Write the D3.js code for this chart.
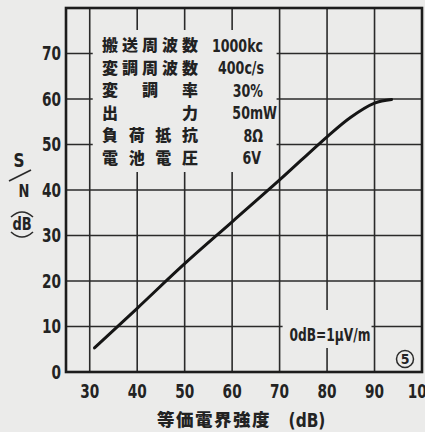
<!DOCTYPE html>
<html>
<head>
<meta charset="utf-8">
<script src="https://cdn.jsdelivr.net/npm/d3@7"></script>
<style>
  html, body { margin: 0; padding: 0; background: #ebebea; }
  svg { display: block; }
  .num { font-family: "DejaVu Sans Condensed", "Liberation Sans", sans-serif; fill: #232323; }
  .cjk { font-family: "Noto Sans CJK JP", sans-serif; font-weight: 900; fill: #222; }
</style>
</head>
<body>
<script>
// S/N versus equivalent field strength
const fieldStrength = [31, 40, 50, 60, 70, 80, 85, 90, 93.6];        // dB (0 dB = 1 µV/m)
const snRatio       = [5.3, 14, 23.8, 33.0, 42.2, 51.7, 56.0, 59.1, 59.9]; // dB

const xTicks = [30, 40, 50, 60, 70, 80, 90, 100];
const yTicks = [0, 10, 20, 30, 40, 50, 60, 70];

const condLabels = ["搬送周波数", "変調周波数", "変調率", "出力", "負荷抵抗", "電池電圧"];
const condValues = ["1000kc", "400c/s", "30%", "50mW", "8Ω", "6V"];

const W = 425, H = 432;
const svg = d3.select("body").append("svg").attr("width", W).attr("height", H);

const x = d3.scaleLinear().domain([25, 100]).range([66, 422]);
const y = d3.scaleLinear().domain([0, 80]).range([372, 8]);

const ink = "#2a2a2a";
const paper = "#ebebea";

// narrow lettering: horizontally squeezed text
function label(g, px, py, str, opt) {
  const o = Object.assign({ size: 18, sx: 0.8, anchor: "middle", weight: "bold", cls: "num" }, opt);
  return g.append("text").attr("class", o.cls)
    .attr("transform", `translate(${px},${py}) scale(${o.sx},1)`)
    .attr("dy", "0.36em").attr("text-anchor", o.anchor)
    .attr("font-size", o.size).attr("font-weight", o.weight)
    .text(str);
}

// grid
const grid = svg.append("g");
grid.selectAll("line.v").data(xTicks.slice(0, -1)).join("line")
  .attr("x1", d => x(d)).attr("x2", d => x(d))
  .attr("y1", y(80)).attr("y2", y(0))
  .attr("stroke", ink).attr("stroke-width", 1.6);
grid.selectAll("line.h").data(yTicks.slice(1)).join("line")
  .attr("x1", x(25)).attr("x2", x(100))
  .attr("y1", d => y(d)).attr("y2", d => y(d))
  .attr("stroke", ink).attr("stroke-width", 1.6);

// blank panels behind the notes
svg.append("rect")
  .attr("x", x(30) + 3).attr("y", 30)
  .attr("width", x(70) - x(30) - 6).attr("height", 142)
  .attr("fill", paper);
svg.append("rect")
  .attr("x", x(70) + 3).attr("y", 310)
  .attr("width", x(90) - x(70) - 6).attr("height", 38)
  .attr("fill", paper);

// frame
svg.append("rect")
  .attr("x", x(25)).attr("y", y(80))
  .attr("width", x(100) - x(25)).attr("height", y(0) - y(80))
  .attr("fill", "none").attr("stroke", "#1c1c1c").attr("stroke-width", 2.6);

// curve
const line = d3.line()
  .x((d, i) => x(fieldStrength[i]))
  .y(d => y(d))
  .curve(d3.curveCatmullRom.alpha(0.5));
svg.append("path")
  .attr("d", line(snRatio))
  .attr("fill", "none").attr("stroke", "#151515").attr("stroke-width", 3)
  .attr("stroke-linecap", "round");

// tick labels
const yl = svg.append("g");
yTicks.forEach(d => label(yl, 61, y(d), d, { anchor: "end", size: 19 }));
const xl = svg.append("g");
xTicks.forEach(d => label(xl, x(d), 391, d, { size: 19 }));

// axis titles
svg.append("text").attr("class", "cjk")
  .attr("x", 157).attr("y", 420).attr("dy", "0.36em")
  .attr("font-size", 17.5).attr("letter-spacing", 1.5)
  .text("等価電界強度");
label(svg, 307, 420, "(dB)", { size: 19, sx: 0.9, weight: "bold" });

const yt = svg.append("g");
label(yt, 19, 160, "S", { size: 20, sx: 0.85 });
yt.append("line").attr("x1", 9).attr("y1", 181).attr("x2", 31).attr("y2", 170)
  .attr("stroke", ink).attr("stroke-width", 1.8);
label(yt, 24, 191, "N", { size: 17, sx: 0.85 });
label(yt, 22, 224, "dB", { size: 17, sx: 0.85 });
yt.append("path").attr("d", "M11,217 Q22,207 33,217")
  .attr("fill", "none").attr("stroke", ink).attr("stroke-width", 1.6);
yt.append("path").attr("d", "M11,232 Q22,242 33,232")
  .attr("fill", "none").attr("stroke", ink).attr("stroke-width", 1.6);

// measurement conditions
const rowY = i => 45.5 + i * 22.5;
const notes = svg.append("g");
condLabels.forEach((lab, i) => {
  const chars = Array.from(lab);
  const n = chars.length;
  chars.forEach((c, j) => {
    notes.append("text").attr("class", "cjk")
      .attr("x", 110 + (n > 1 ? j * 80 / (n - 1) : 0))
      .attr("y", rowY(i)).attr("dy", "0.36em")
      .attr("text-anchor", "middle").attr("font-size", 16)
      .text(c);
  });
});
const valueEnd = [263, 264, 263, 277, 263, 261];
condValues.forEach((v, i) =>
  label(notes, valueEnd[i], rowY(i), v, { anchor: "end", size: 18, sx: 0.78, weight: "bold" })
    .attr("fill", "#303030"));

// reference level note
label(svg, 330, 335, "0dB=1μV/m", { size: 17, sx: 0.8, weight: "bold" });

// figure number
svg.append("circle").attr("cx", 405).attr("cy", 359).attr("r", 8.5)
  .attr("fill", "none").attr("stroke", ink).attr("stroke-width", 1.5);
label(svg, 405, 359, "5", { size: 14, sx: 1, weight: "bold" });
</script>
</body>
</html>
